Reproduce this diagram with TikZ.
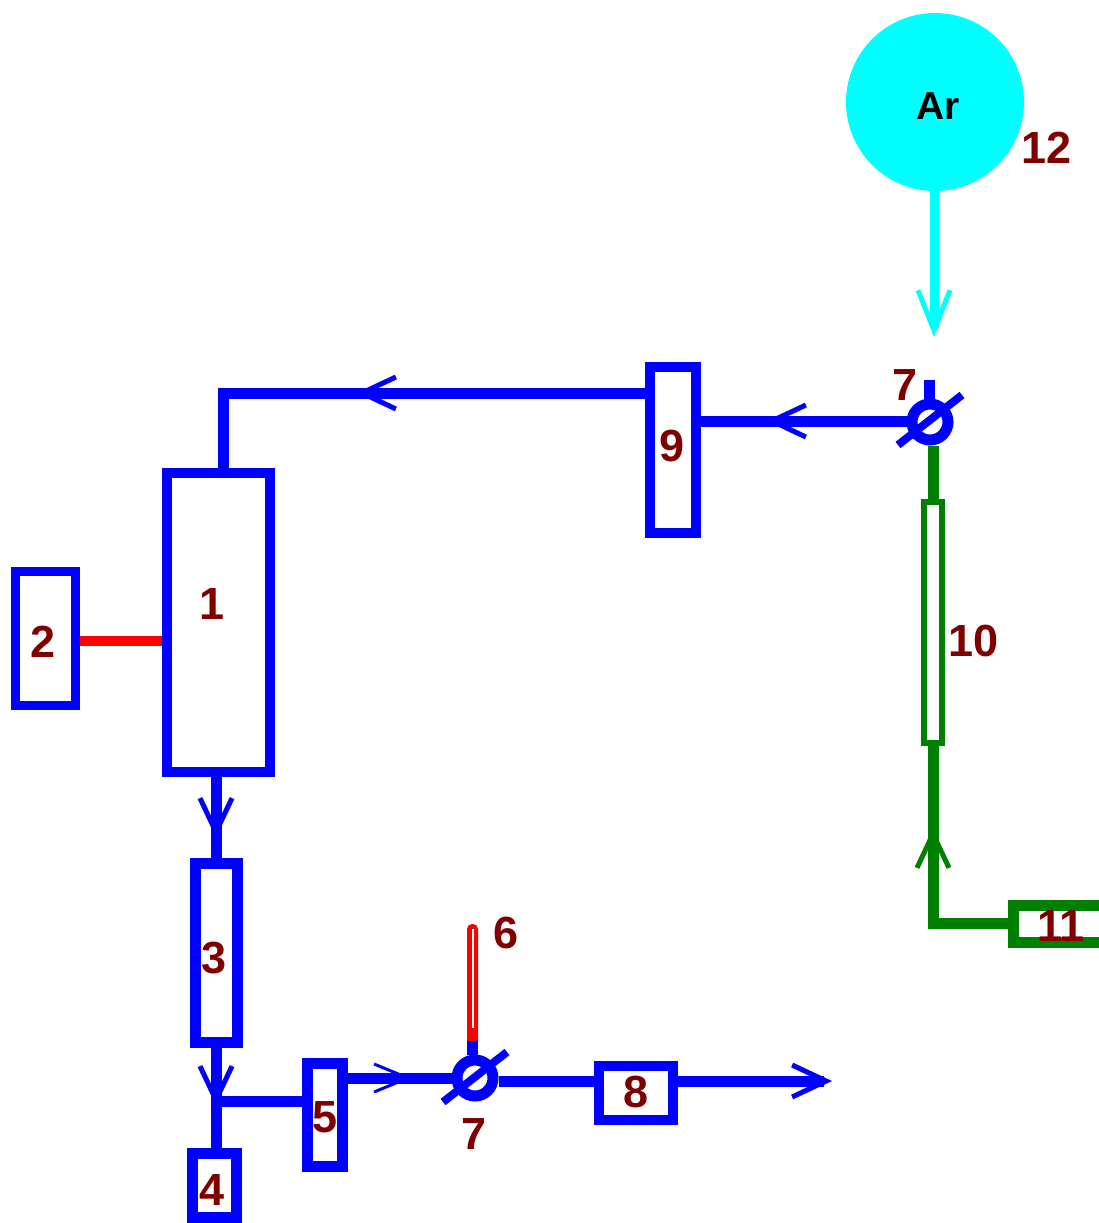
\documentclass[tikz,border=0pt]{standalone}
\usepackage{fontspec}
\setmainfont{Liberation Sans}
\usetikzlibrary{arrows.meta}
\definecolor{pipeblue}{RGB}{0,0,255}
\definecolor{pipegreen}{RGB}{0,128,0}
\definecolor{heatred}{RGB}{255,0,0}
\definecolor{arcyan}{RGB}{0,255,255}
\definecolor{numred}{RGB}{128,0,0}
\tikzset{
  unit/.style={draw=pipeblue,line width=5pt,inner sep=0pt,shape=rectangle},
  num/.style={text=numred,font=\fontsize{22.5}{22.5}\selectfont\bfseries,inner sep=0pt},
  pipe/.style={draw=pipeblue,line width=5.5pt},
  greenpipe/.style={draw=pipegreen,line width=5.5pt},
  valve/.style={shape=circle,draw=pipeblue,line width=5.5pt,minimum size=18pt,inner sep=0pt},
  slash/.style={draw=pipeblue,line width=4pt},
  barb/.style={-{Straight Barb[length=17pt,width=16pt,line width=2.5pt]}},
  thinbarb/.style={-{Straight Barb[length=17pt,width=14pt,line width=1.5pt]}},
  bigbarb/.style={-{Straight Barb[length=20pt,width=16pt,line width=2.5pt]}}
}
\begin{document}
\begin{tikzpicture}[x=.5pt,y=-.5pt]
\clip (0,0) rectangle (1099,1223);
\node[unit,minimum width=51.5pt,minimum height=149.5pt] (b1) at (218.5,622.5) {}; %%
\node[unit,line width=4.5pt,minimum width=30pt,minimum height=67pt] (b2) at (45.5,638.5) {}; %%
\node[unit,line width=5.5pt,minimum width=21pt,minimum height=89.5pt] (b3) at (216.5,953) {}; %%
\node[unit,line width=5.5pt,minimum width=22pt,minimum height=32pt] (b4) at (214.5,1185.5) {}; %%
\node[unit,line width=5.5pt,minimum width=17.5pt,minimum height=51.5pt] (b5) at (325,1115) {}; %%
\node[unit,minimum width=37pt,minimum height=27pt] (b8) at (636,1093) {}; %%
\node[unit,minimum width=23pt,minimum height=83pt] (b9) at (673,450) {}; %%
\node[unit,draw=pipegreen,line width=3pt,minimum width=9pt,minimum height=120.5pt] (b10) at (933,622.5) {}; %%
\node[unit,draw=pipegreen,line width=5.5pt,minimum width=55.5pt,minimum height=18.5pt] (b11) at (1069,924) {}; %%
\node[shape=circle,fill=arcyan,minimum size=89pt,inner sep=0pt] (ar) at (935,102) {}; %%
\node[valve] (v1) at (930,422) {}; %%
\node[valve] (v2) at (475,1078) {}; %%
\node[fill=heatred,rounded corners=2.5pt,minimum width=5.5pt,minimum height=61pt,inner sep=0pt] (th) at (472.5,985) {}; %%
\node[fill=white,minimum width=1pt,minimum height=49.5pt,inner sep=0pt] (thgap) at (472.5,978.5) {}; %%
% pipe corners, arrow points and free ends
\coordinate (c1) at (223,393);
\coordinate (t1) at (356,393);
\coordinate (t2) at (766,421);
\coordinate (t3) at (934,337);
\coordinate (t4) at (216,838);
\coordinate (t5) at (216,1106);
\coordinate (j1) at (216,1101);
\coordinate (t6) at (412,1078);
\coordinate (t7) at (832,1081);
\coordinate (t8) at (933,828);
\coordinate (c2) at (933,923);
\coordinate (st1) at (929,380);
\coordinate (st2) at (472,1041);
\coordinate (sa1) at (898,445);
\coordinate (sb1) at (962,395);
\coordinate (sa2) at (443,1102);
\coordinate (sb2) at (507,1052);
%
\draw[pipe,heatred,line width=5pt] (b2.east |- 0,641)--(b1.west |- 0,641);
\draw[pipe,barb] (b9.west |- c1)--(t1); %%
\draw[pipe] (b9.west |- c1)--(c1)--(c1 |- b1.north); %%
\draw[pipe,barb] (v1.west |- t2)--(t2); %%
\draw[pipe] (v1.west |- t2)--(b9.east |- t2); %%
\draw[pipe,arcyan,line width=4.5pt,bigbarb] (ar.south -| t3)--(t3); %%
\draw[pipe,barb] (t4 |- b1.south)--(t4); %%
\draw[pipe] (t4 |- b1.south)--(t4 |- b3.north); %%
\draw[pipe,barb] (t5 |- b3.south)--(t5); %%
\draw[pipe] (t5 |- b3.south)--(t5 |- b4.north); %%
\draw[pipe] (j1)--(b5.west |- j1); %%
\draw[pipe,thinbarb] (b5.east |- t6)--(t6); %%
\draw[pipe] (b5.east |- t6)--(v2.west |- t6); %%
\draw[pipe] (v2.east |- t7)--(b8.west |- t7); %%
\draw[pipe,barb] (b8.east |- t7)--(t7); %%
\draw[pipe] (st1)--(st1 |- v1.north); %%
\draw[pipe] (st2)--(st2 |- v2.north); %%
\draw[slash] (sa1)--(sb1); %%
\draw[slash] (sa2)--(sb2); %%
\draw[greenpipe] (b10.north)--(b10.north |- v1.south); %%
\draw[greenpipe,barb] (b11.west |- c2)--(c2)--(t8); %%
\draw[greenpipe] (b11.west |- c2)--(c2)--(b10.south); %%
% labels
\node[font=\fontsize{19.5}{19.5}\selectfont\bfseries,inner sep=0pt] (arname) at (938,106) {Ar};
\node[num] (n1) at (212,604) {1}; %%
\node[num] (n2) at (43,642) {2}; %%
\node[num] (n3) at (214,958) {3}; %%
\node[num] (n4) at (212,1190) {4}; %%
\node[num] (n5) at (325,1117) {5}; %%
\node[num] (n6) at (506,933) {6}; %%
\node[num] (n7a) at (905,385) {7}; %%
\node[num] (n7b) at (474,1134) {7}; %%
\node[num] (n8) at (636,1092) {8}; %%
\node[num] (n9) at (672,446) {9}; %%
\node[num] (n10) at (974,641) {10}; %%
\node[num] (n11) at (1061,926) {11}; %%
\node[num] (n12) at (1047,148) {12}; %%
\end{tikzpicture}
\end{document}
